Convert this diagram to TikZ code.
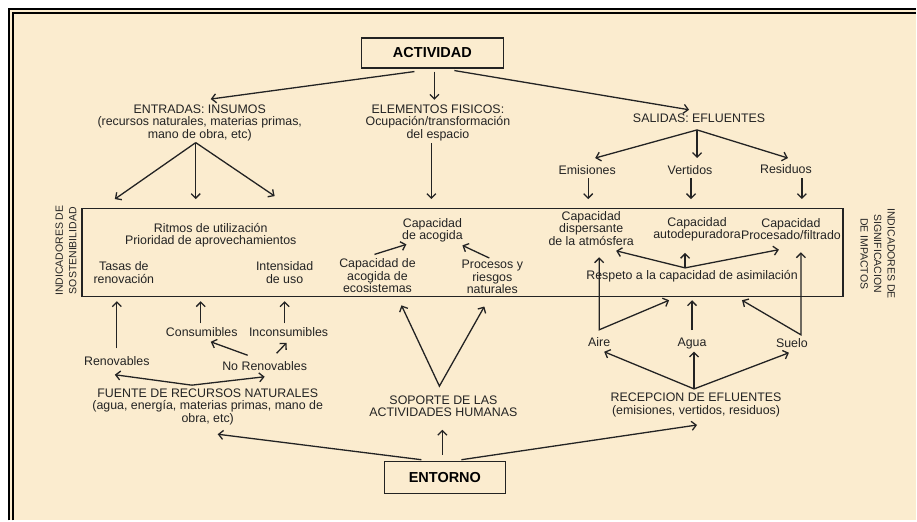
\documentclass[tikz,border=0pt]{standalone}
\usepackage{fontspec}
\setmainfont{Liberation Sans}
\usetikzlibrary{arrows.meta, calc, positioning}
\definecolor{paper}{RGB}{251,236,207}
\definecolor{ink}{RGB}{35,35,35}

\begin{document}
\begin{tikzpicture}[
        x=1pt, y=-1pt,
        base/.style = {inner sep=1pt, align=center, text=ink,
                       font=\fontsize{12.4}{12.5}\selectfont},
        block/.style = {draw=ink, line width=1.3pt, inner sep=0pt,
                        font=\fontsize{14.5}{16}\selectfont\bfseries,
                        minimum height=30pt},
        side/.style = {base, font=\fontsize{10.5}{13.5}\selectfont},
        arr/.style = {draw=ink, line width=1.3pt,
                      -{Straight Barb[length=4.5pt,width=9pt]}},
        arrs/.style = {arr, {Straight Barb[length=4.5pt,width=9pt]}-{Straight Barb[length=4.5pt,width=9pt]}},
        ]
        % background and frame
        \fill [white] (0,0) rectangle (917,521);
        \fill [paper] (8,8) rectangle (917,521);
        \draw [line width=2.5pt] (9.25,521) -- (9.25,9.25) -- (917,9.25);
        \draw [line width=2pt] (13,521) -- (13,13) -- (917,13);

        % boxes
        \node [block, minimum width=142pt] (act) at (433,53) {ACTIVIDAD};
        \node [block, minimum width=121pt, minimum height=32pt] (env) at (445.5,478) {ENTORNO};
        \node [draw=ink, line width=1.3pt, minimum width=762pt,
               minimum height=88pt] (ind) at (463,253) {};

        % top row
        \node [base] (ent) at (200,123) {ENTRADAS: INSUMOS\\(recursos naturales, materias primas,\\mano de obra, etc)};
        \node [base] (fis) at (438.5,122.7) {ELEMENTOS FISICOS:\\Ocupación/transformación\\del espacio};
        \node [base] (sal) at (700,118) {SALIDAS: EFLUENTES};
        \node [base] (emi) at (588,170) {Emisiones};
        \node [base] (ver) at (691,170) {Vertidos};
        \node [base] (res) at (787,169) {Residuos};

        % side labels
        \node [side, rotate=90] (isost) at (66,251) {INDICADORES DE\\SOSTENIBILIDAD};
        \node [side, rotate=-90] (isig) at (879,254) {INDICADORES DE\\SIGNIFICACION\\DE IMPACTOS};

        % inside the box
        \node [base] (rit) at (211,235.5) {Ritmos de utilización\\Prioridad de aprovechamientos};
        \node [base] (tas) at (124,273) {Tasas de\\renovación};
        \node [base] (int) at (285,273) {Intensidad\\de uso};
        \node [base] (cae) at (378,276) {Capacidad de\\acogida de\\ecosistemas};
        \node [base] (cac) at (433,230.5) {Capacidad\\de acogida};
        \node [base] (pro) at (493,277.4) {Procesos y\\riesgos\\naturales};
        \node [base] (cdi) at (592,228.4) {Capacidad\\dispersante\\de la atmósfera};
        \node [base] (cau) at (698,229.5) {Capacidad\\autodepuradora};
        \node [base] (cpf) at (792,229.5) {Capacidad\\Procesado/filtrado};
        \node [base] (resp) at (693,276.3) {Respeto a la capacidad de asimilación};

        % bottom row
        \node [base] (aire) at (600,343) {Aire};
        \node [base] (agua) at (693,344.3) {Agua};
        \node [base] (suelo) at (793,344) {Suelo};
        \node [base] (rec) at (697,405.5) {RECEPCION DE EFLUENTES\\(emisiones, vertidos, residuos)};
        \node [base] (sop) at (444,407) {SOPORTE DE LAS\\ACTIVIDADES HUMANAS};
        \node [base] (fue) at (208,407.5) {FUENTE DE RECURSOS NATURALES\\(agua, energía, materias primas, mano de\\obra, etc)};
        \node [base] (renov) at (117,361.5) {Renovables};
        \node [base] (norenov) at (265,366.5) {No Renovables};
        \node [base] (cons) at (202,332.5) {Consumibles};
        \node [base] (incons) at (289,332.5) {Inconsumibles};

        % ACTIVIDAD
        \draw [arr] ([xshift=-18pt,yshift=-3pt]act.south) -- ([xshift=11pt,yshift=4.5pt]ent.north);
        \draw [arr] ([xshift=2pt,yshift=-3pt]act.south) -- ([xshift=-3.5pt,yshift=3.5pt]fis.north);
        \draw [arr] ([xshift=22pt,yshift=-2pt]act.south) -- ([xshift=-10pt,yshift=2.5pt]sal.north);

        % entradas
        \coordinate (entF) at ([xshift=-4pt,yshift=-0.5pt]ent.south);
        \draw [arr] (entF) -- ([xshift=-85pt,yshift=9pt]ent.south |- ind.north);
        \draw [arr] (entF) -- ([xshift=-4pt,yshift=9pt]ent.south |- ind.north);
        \draw [arr] (entF) -- ([xshift=75pt,yshift=12pt]ent.south |- ind.north);
        \draw [arr] ([xshift=-6.5pt,yshift=-1.5pt]fis.south) -- ([xshift=-6.5pt,yshift=9pt]fis.south |- ind.north);

        % salidas
        \coordinate (salF) at ([xshift=-2pt,yshift=-6.5pt]sal.south);
        \draw [arr] (salF) -- ([xshift=8pt,yshift=6pt]emi.north);
        \draw [arr] (salF) -- ([xshift=7pt,yshift=6pt]ver.north);
        \draw [arr] (salF) -- ([xshift=2pt,yshift=5pt]res.north);
        \draw [arr] ([xshift=1pt,yshift=-2.5pt]emi.south) -- ([xshift=1pt,yshift=9pt]emi.south |- ind.north);
        \draw [arr] ([xshift=1pt,yshift=-2.5pt]ver.south) -- ([xshift=1pt,yshift=9pt]ver.south |- ind.north);
        \draw [arr] ([xshift=16pt,yshift=-3.5pt]res.south) -- ([xshift=16pt,yshift=9pt]res.south |- ind.north);

        % inside the box
        \draw [arr] ([xshift=-3pt,yshift=3pt]cae.north) -- ([xshift=-26pt,yshift=-1pt]cac.south);
        \draw [arr] ([xshift=-3pt,yshift=1pt]pro.north) -- ([xshift=30pt,yshift=-2pt]cac.south);
        \coordinate (respF) at ([xshift=-7pt,yshift=1pt]resp.north);
        \draw [arr] (respF) -- ([xshift=25pt,yshift=-4.5pt]cdi.south);
        \draw [arr] (respF) -- ([xshift=-12pt,yshift=-10.5pt]cau.south);
        \draw [arr] (respF) -- ([xshift=-12pt,yshift=-8.5pt]cpf.south);

        % receptores
        \draw [arrs] ([yshift=40pt]aire.north |- ind.south) -- ([yshift=7pt]aire.north)
            -- ([xshift=70pt,yshift=-3pt]aire.north |- ind.south);
        \draw [arr] ([yshift=7pt]agua.north) -- ([yshift=-3pt]agua.north |- ind.south);
        \draw [arrs] ([xshift=9pt,yshift=45pt]suelo.north |- ind.south) -- ([xshift=9pt,yshift=3pt]suelo.north)
            -- ([xshift=-50pt,yshift=-3pt]suelo.north |- ind.south);
        \coordinate (recF) at ([xshift=-2pt,yshift=3pt]rec.north);
        \draw [arr] (recF) -- ([xshift=5pt,yshift=-3.5pt]aire.south);
        \draw [arr] (recF) -- ([xshift=2pt,yshift=-1pt]agua.south);
        \draw [arr] (recF) -- ([xshift=-3pt,yshift=-3.5pt]suelo.south);

        % soporte
        \draw [arrs] ([xshift=24pt,yshift=-11.5pt]cae.south) -- ([xshift=-4pt,yshift=8.5pt]sop.north)
            -- ([xshift=-8pt,yshift=-11.5pt]pro.south);

        % fuente de recursos
        \coordinate (fueF) at ([xshift=-16pt,yshift=2.5pt]fue.north);
        \draw [arr] (fueF) -- ([xshift=-2pt,yshift=-8pt]renov.south);
        \draw [arr] (fueF) -- ([yshift=-5pt]norenov.south);
        \draw [arr] ([yshift=7pt]renov.north) -- ([yshift=-4pt]renov.north |- ind.south);
        \draw [arr] ([xshift=-17pt,yshift=5pt]norenov.north) -- ([xshift=9pt,yshift=-4pt]cons.south);
        \draw [arr] ([xshift=12pt,yshift=7pt]norenov.north) -- ([xshift=-2pt,yshift=-5pt]incons.south);
        \draw [arr] ([xshift=-1pt,yshift=3pt]cons.north) -- ([xshift=-1pt,yshift=-4pt]cons.north |- ind.south);
        \draw [arr] ([xshift=-4pt,yshift=3pt]incons.north) -- ([xshift=-4pt,yshift=-4pt]incons.north |- ind.south);

        % ENTORNO
        \draw [arr] ([xshift=-23.5pt,yshift=1pt]env.north) -- ([xshift=10pt,yshift=-8pt]fue.south);
        \draw [arr] ([xshift=-2.5pt,yshift=6pt]env.north) -- ([xshift=-1pt,yshift=-11.5pt]sop.south);
        \draw [arr] ([xshift=16.5pt,yshift=1pt]env.north) -- ([xshift=1pt,yshift=-7pt]rec.south);
\end{tikzpicture}
\end{document}
